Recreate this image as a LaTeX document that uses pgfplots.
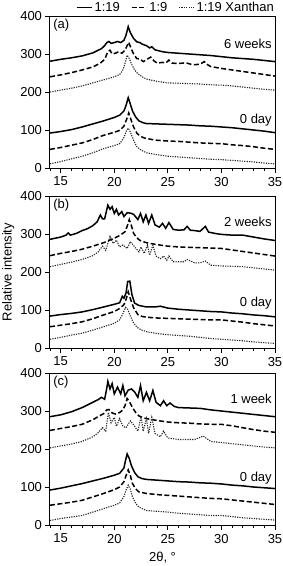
\documentclass[border=0pt]{standalone}
\usepackage{fontspec}
\setmainfont{Liberation Sans}
\usepackage{pgfplots}
\pgfplotsset{compat=1.18}
\pgfplotsset{
  panel/.style={
    scale only axis, width=225pt, height=152pt,
    xmin=14, xmax=35, ymin=0, ymax=400,
    xtick={15,20,25,30,35}, minor xtick={14,16,17,18,19,21,22,23,24,26,27,28,29,31,32,33,34},
    ytick={0,100,200,300,400},
    tick align=outside, xtick pos=bottom, ytick pos=left,
    major tick length=4.5pt, minor tick length=3pt,
    every tick/.style={black, line width=0.9pt},
    axis line style={line width=1pt},
    font=\fontsize{13}{15}\selectfont,
    /pgf/number format/assume math mode=true,
    tick label style={font=\fontsize{13}{15}\selectfont},
    xticklabel style={yshift=-1pt},
    clip=false,
  },
  s19/.style={black, line width=1.5pt},
  s9/.style={black, line width=1.5pt, dash pattern=on 5pt off 2.5pt},
  sx/.style={black!85, line width=1.1pt, dash pattern=on 1.2pt off 1.2pt},
}
\begin{document}
\begin{tikzpicture}
\path[use as bounding box] (0pt,0pt) rectangle (283pt,-566pt);
% Panel (a)
\begin{axis}[panel, at={(50pt,-168pt)}, anchor=south west,
  legend style={at={(0.56,1.0)}, anchor=south, yshift=0pt, draw=none, fill=none,
    legend columns=3, font=\fontsize{13}{15}\selectfont, inner sep=1pt,
    /tikz/every even column/.append style={column sep=9pt}},
  legend image code/.code={\draw[#1] (0pt,0pt) -- (15pt,0pt);}]
\addplot[s19] coordinates {(14,281)(15,286)(16,290)(17,295)(18,303)(18.5,310)(18.8,314)(19.1,322)(19.3,330)(19.5,333)(19.7,328)(20,330)(20.3,333)(20.6,330)(20.9,336)(21.1,350)(21.3,372)(21.5,356)(21.8,341)(22.1,332)(22.4,330)(22.6,326)(23,322)(23.3,316)(23.5,319)(23.8,311)(24.5,306)(25,304)(26,302)(27,300)(28,298)(29,296)(30,293)(31,290)(32,288)(33,286)(34,283)(35,280)};
\addlegendentry{1:19}
\addplot[s9] coordinates {(14,240)(15,245)(16,251)(17,258)(18,266)(18.7,276)(19.1,286)(19.4,306)(19.6,310)(19.8,300)(20.1,302)(20.4,306)(20.7,302)(21.0,310)(21.2,322)(21.35,331)(21.55,316)(21.8,300)(22.1,288)(22.4,287)(22.7,280)(23,285)(23.4,292)(23.7,282)(24,276)(24.5,278)(24.8,276)(25.1,284)(25.4,276)(26,275)(26.7,277)(27,274)(27.5,272)(28,273)(28.4,280)(28.7,272)(29,267)(30,262)(31,258)(32,254)(33,250)(34,246)(35,242)};
\addlegendentry{1:9}
\addplot[sx] coordinates {(14,200)(15,205)(16,210)(17,216)(18,224)(19,232)(20,240)(20.5,246)(20.8,258)(21.0,275)(21.2,297)(21.4,288)(21.6,274)(21.9,258)(22.2,248)(22.6,240)(23,234)(24,228)(25,224)(26,223)(27,222)(28,221)(29,219)(30,218)(31,216)(32,213)(33,210)(34,207)(35,205)};
\addlegendentry{1:19 Xanthan}
\addplot[s19, forget plot] coordinates {(14,92)(15,96)(16,101)(17,108)(18,116)(19,124)(20,133)(20.5,139)(20.9,150)(21.1,165)(21.3,185)(21.5,168)(21.7,150)(22,134)(22.3,124)(22.7,119)(23,117)(24,116)(25,115)(26,114)(27,113)(28,111)(29,110)(30,108)(31,106)(32,103)(33,100)(34,97)(35,93)};
\addplot[s9, forget plot] coordinates {(14,49)(15,54)(16,60)(17,66)(18,75)(19,86)(20,94)(20.5,99)(20.9,110)(21.15,128)(21.35,145)(21.55,128)(21.8,108)(22.1,92)(22.4,84)(22.8,79)(23.5,75)(24,73)(25,71)(26,70)(27,68)(28,66)(29,65)(30,64)(31,61)(32,59)(33,56)(34,52)(35,49)};
\addplot[sx, forget plot] coordinates {(14,11)(15,17)(16,24)(17,31)(18,40)(19,51)(20,59)(20.5,64)(20.9,80)(21.1,96)(21.3,105)(21.5,95)(21.8,73)(22.1,56)(22.5,47)(23,40)(24,35)(25,31)(26,29)(27,27)(28,25)(29,23)(30,22)(31,20)(32,18)(33,16)(34,13)(35,11)};
\node[anchor=north west, inner sep=2pt] at (axis cs:14.1,398) {(a)};
\node[anchor=east, inner sep=2pt] at (axis cs:34.9,326) {6 weeks};
\node[anchor=east, inner sep=2pt] at (axis cs:34.9,126) {0 day};
\end{axis}
% Panel (b)
\begin{axis}[panel, at={(50pt,-348pt)}, anchor=south west, ylabel={Relative intensity}, ylabel style={yshift=-1pt}]
\addplot[s19] coordinates {(14,286)(15,292)(15.5,297)(15.7,303)(15.9,297)(16.5,302)(17,309)(17.5,314)(18,322)(18.4,332)(18.7,350)(18.9,340)(19.1,340)(19.4,376)(19.6,365)(19.8,372)(20.0,354)(20.2,365)(20.4,350)(20.7,359)(20.9,346)(21.2,356)(21.5,355)(21.8,352)(22.2,338)(22.45,354)(22.7,332)(22.95,350)(23.2,328)(23.5,350)(23.8,324)(24.2,318)(24.5,328)(24.8,315)(25.1,330)(25.5,312)(26,310)(26.5,311)(26.8,320)(27.1,310)(27.5,309)(28,307)(28.5,320)(28.8,305)(29.5,301)(30,299)(31,297)(32,297)(33,292)(34,287)(35,283)};
\addplot[s9] coordinates {(14,243)(15,249)(16,254)(17,260)(18,268)(19,277)(20,289)(20.5,296)(21,306)(21.2,320)(21.4,338)(21.6,322)(21.8,302)(22.1,290)(22.4,283)(23,277)(24,272)(25,268)(26,266)(27,265)(28,264)(29,263)(30,262)(31,258)(32,254)(33,250)(34,246)(35,242)};
\addplot[sx] coordinates {(14,214)(15,220)(16,226)(17,233)(18,243)(18.5,253)(18.9,268)(19.2,257)(19.6,294)(19.9,275)(20.2,284)(20.5,266)(20.8,271)(21.2,262)(21.5,280)(21.9,266)(22.3,253)(22.5,266)(22.8,249)(23.1,271)(23.3,244)(23.6,271)(23.9,242)(24.3,235)(24.6,242)(24.9,231)(25.1,242)(25.5,227)(26.5,227)(26.8,233)(27.5,224)(28,224)(28.5,229)(29,218)(30,216)(31,215)(32,214)(33,211)(34,208)(35,205)};
\addplot[s19] coordinates {(14,84)(15,88)(16,91)(17,95)(18,101)(19,108)(20,115)(20.5,119)(20.75,136)(20.9,131)(21.1,145)(21.25,175)(21.45,176)(21.65,140)(21.9,118)(22.3,112)(23,108)(23.8,108)(24.3,110)(25,105)(26,102)(27,100)(28,98)(29,96)(30,95)(31,92)(32,90)(33,87)(34,85)(35,82)};
\addplot[s9] coordinates {(14,56)(15,60)(16,64)(17,69)(18,77)(19,87)(20,96)(20.5,104)(20.9,114)(21.1,128)(21.3,148)(21.5,130)(21.8,106)(22.2,88)(22.6,83)(23,81)(24,79)(25,78)(26,77)(27,76)(28,75)(29,74)(30,74)(31,71)(32,68)(33,64)(34,61)(35,58)};
\addplot[sx] coordinates {(14,23)(15,28)(16,34)(17,39)(18,47)(19,56)(20,65)(20.5,74)(20.8,90)(21.05,107)(21.25,102)(21.5,84)(21.8,66)(22.1,55)(22.5,48)(23,43)(24,38)(25,35)(26,33)(27,31)(28,28)(29,25)(30,23)(31,21)(32,19)(33,16)(34,14)(35,12)};
\node[anchor=north west, inner sep=2pt] at (axis cs:14.1,398) {(b)};
\node[anchor=east, inner sep=2pt] at (axis cs:34.9,332) {2 weeks};
\node[anchor=east, inner sep=2pt] at (axis cs:34.9,117) {0 day};
\end{axis}
% Panel (c)
\begin{axis}[panel, at={(50pt,-525pt)}, anchor=south west, xlabel={2θ, °}, xlabel style={yshift=-2pt}]
\addplot[s19] coordinates {(14,285)(15,290)(16,298)(17,309)(18,323)(18.5,330)(18.8,336)(19.1,331)(19.3,360)(19.4,378)(19.6,358)(19.8,372)(20.0,345)(20.3,363)(20.6,345)(20.8,367)(21.0,340)(21.3,355)(21.6,358)(21.9,350)(22.2,336)(22.45,367)(22.7,327)(23.0,349)(23.3,327)(23.6,354)(23.9,323)(24.3,314)(24.6,327)(24.9,314)(25.2,321)(25.6,312)(26,309)(27,308)(28,307)(29,303)(30,300)(31,297)(32,294)(33,291)(34,288)(35,285)};
\addplot[s9] coordinates {(14,249)(15,254)(16,259)(17,265)(18,277)(18.6,287)(19.0,293)(19.3,303)(19.5,304)(19.8,295)(20.1,292)(20.5,296)(20.8,303)(21.0,314)(21.2,333)(21.4,325)(21.7,309)(22.0,296)(22.3,287)(22.7,282)(23,280)(24,275)(25,271)(26,269)(27,268)(28,266)(29,265)(30,265)(31,261)(32,256)(33,251)(34,247)(35,244)};
\addplot[sx] coordinates {(14,203)(15,208)(16,213)(17,220)(18,232)(18.5,243)(18.9,256)(19.2,247)(19.45,296)(19.7,269)(20,283)(20.2,260)(20.5,280)(20.8,260)(21.1,256)(21.5,274)(21.9,260)(22.2,247)(22.5,285)(22.7,247)(23,280)(23.2,241)(23.5,283)(23.8,241)(24.3,232)(24.6,247)(25,229)(26,225)(27,225)(27.5,225)(28.3,234)(29,220)(30,217)(31,214)(32,211)(33,208)(34,205)(35,203)};
\addplot[s19] coordinates {(14,92)(15,97)(16,103)(17,109)(18,116)(19,123)(20,131)(20.5,136)(20.9,150)(21.05,170)(21.2,187)(21.4,175)(21.6,156)(21.9,138)(22.2,127)(22.6,122)(23,120)(24,118)(25,116)(26,114)(27,113)(28,111)(29,110)(30,108)(31,105)(32,103)(33,100)(34,98)(35,96)};
\addplot[s9] coordinates {(14,52)(15,56)(16,60)(17,65)(18,74)(19,83)(20,93)(20.5,100)(20.9,114)(21.1,130)(21.3,145)(21.5,130)(21.7,109)(22.0,95)(22.3,87)(23,83)(24,80)(25,78)(26,76)(27,74)(28,72)(29,70)(30,69)(31,66)(32,63)(33,60)(34,57)(35,54)};
\addplot[sx] coordinates {(14,12)(15,17)(16,21)(17,25)(18,34)(19,43)(20,52)(20.5,58)(20.9,75)(21.1,92)(21.3,105)(21.5,94)(21.7,74)(22.0,57)(22.3,47)(23,38)(24,36)(25,34)(26,31)(27,29)(28,27)(29,25)(30,25)(31,22)(32,19)(33,17)(34,15)(35,13)};
\node[anchor=north west, inner sep=2pt] at (axis cs:14.1,398) {(c)};
\node[anchor=east, inner sep=2pt] at (axis cs:34.9,331) {1 week};
\node[anchor=east, inner sep=2pt] at (axis cs:34.9,123) {0 day};
\end{axis}
\end{tikzpicture}
\end{document}
